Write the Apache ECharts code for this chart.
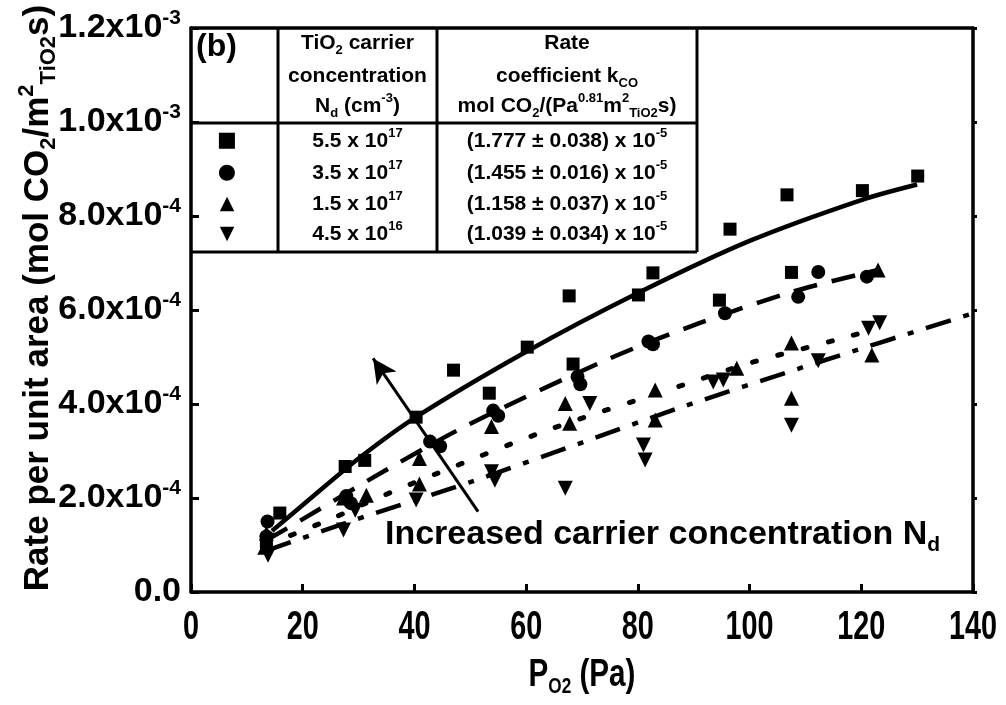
<!DOCTYPE html>
<html><head><meta charset="utf-8">
<script src="https://cdn.jsdelivr.net/npm/echarts@6/dist/echarts.min.js"></script>
<style>html,body{margin:0;padding:0;background:#fff}#c{width:1006px;height:705px}</style>
</head><body><div id="c"></div>
<script>
// ---------- data ----------
const xTickLabels = ['0','20','40','60','80','100','120','140'];
const xTickValues = [0,20,40,60,80,100,120,140];
const yTickMant = ['0.0','2.0','4.0','6.0','8.0','1.0','1.2'];
const yTickExp  = ['','-4','-4','-4','-4','-3','-3'];

// squares: Nd = 5.5e17
const sqX = [13.5, 15.9, 27.6, 31.1, 40.3, 47.0, 53.4, 60.2, 67.7, 68.4, 80.1, 82.7, 94.6, 96.5, 106.7, 107.5, 120.2, 130.1];
const sqY = [1.05e-4, 1.68e-4, 2.67e-4, 2.80e-4, 3.72e-4, 4.72e-4, 4.23e-4, 5.21e-4, 6.30e-4, 4.85e-4, 6.32e-4, 6.79e-4, 6.21e-4, 7.72e-4, 8.45e-4, 6.80e-4, 8.54e-4, 8.85e-4];
// circles: Nd = 3.5e17
const ciX = [13.7, 13.5, 27.8, 28.6, 42.8, 44.6, 54.1, 55.0, 69.2, 69.7, 81.9, 82.7, 95.6, 108.7, 112.3, 121.0];
const ciY = [1.50e-4, 1.18e-4, 2.04e-4, 1.89e-4, 3.20e-4, 3.10e-4, 3.86e-4, 3.75e-4, 4.58e-4, 4.42e-4, 5.33e-4, 5.27e-4, 5.93e-4, 6.28e-4, 6.81e-4, 6.71e-4];
// up triangles: Nd = 1.5e17
const tuX = [13.5, 13.2, 27.3, 31.4, 40.9, 40.9, 53.8, 67.0, 67.8, 83.1, 83.1, 97.7, 107.5, 107.5, 121.9, 123.0];
const tuY = [1.25e-4, 0.95e-4, 2.00e-4, 2.06e-4, 2.84e-4, 2.30e-4, 3.52e-4, 4.01e-4, 3.59e-4, 4.30e-4, 3.66e-4, 4.76e-4, 5.30e-4, 4.12e-4, 5.04e-4, 6.85e-4];
// down triangles: Nd = 4.5e16
const tdX = [13.8, 13.8, 27.3, 29.4, 40.3, 53.8, 54.4, 67.0, 71.4, 81.0, 81.3, 93.5, 95.3, 107.5, 112.3, 121.3, 123.3];
const tdY = [1.10e-4, 0.78e-4, 1.32e-4, 1.74e-4, 1.96e-4, 2.56e-4, 2.38e-4, 2.21e-4, 4.01e-4, 3.13e-4, 2.81e-4, 4.47e-4, 4.51e-4, 3.55e-4, 4.92e-4, 5.61e-4, 5.73e-4];

// fitted curves
const fitSqX = [14.5, 20, 30, 40, 60, 80, 100, 120, 130];
const fitSqY = [1.30e-4, 1.85e-4, 2.84e-4, 3.70e-4, 5.11e-4, 6.36e-4, 7.47e-4, 8.34e-4, 8.67e-4];
const fitCiX = [13.5, 20, 35, 50, 75, 91, 108, 123];
const fitCiY = [1.10e-4, 1.55e-4, 2.60e-4, 3.58e-4, 4.97e-4, 5.72e-4, 6.40e-4, 6.85e-4];
const fitTuX = [13.5, 25, 33.2, 44, 64, 89, 100, 116, 122];
const fitTuY = [1.00e-4, 1.55e-4, 1.99e-4, 2.52e-4, 3.45e-4, 4.44e-4, 4.87e-4, 5.38e-4, 5.58e-4];
const fitTdX = [13.5, 28.5, 50, 70, 88, 110, 140];
const fitTdY = [0.88e-4, 1.50e-4, 2.34e-4, 3.18e-4, 3.94e-4, 4.80e-4, 5.93e-4];

// arrow (data coords)
const arrowFrom = [51.4, 1.71e-4];
const arrowTo = [32.6, 4.97e-4];

// legend table text
const hdrCol2 = ['TiO{s|2} carrier', 'concentration', 'N{s|d} (cm{p|-3})'];
const hdrCol3 = ['Rate', 'coefficient k{s|CO}', 'mol CO{s|2}/(Pa{p|0.81}m{p|2}{s|TiO2}s)'];
const legendSymbols = ['■', '●', '▲', '▼'];
const legendConc = ['5.5 x 10{p|17}', '3.5 x 10{p|17}', '1.5 x 10{p|17}', '4.5 x 10{p|16}'];
const legendCoef = ['(1.777 ± 0.038) x 10{p|-5}', '(1.455 ± 0.016) x 10{p|-5}', '(1.158 ± 0.037) x 10{p|-5}', '(1.039 ± 0.034) x 10{p|-5}'];

// ---------- chart ----------
const FONT = "'Liberation Sans', Arial, Helvetica, sans-serif";
const chart = echarts.init(document.getElementById('c'));
const zip = (a, b) => a.map((v, i) => [v, b[i]]);

function scatter(x, y, symbol, size, rot) {
  return { type: 'scatter', data: zip(x, y), symbol, symbolSize: size, symbolRotate: rot || 0,
    itemStyle: { color: '#000', opacity: 1 }, z: 3, silent: true };
}
function fit(x, y, type, width, cap) {
  return { type: 'line', data: zip(x, y), smooth: 0.3, showSymbol: false, symbol: 'none', silent: true,
    lineStyle: { color: '#000', width, type, cap: cap || 'butt', opacity: 1 }, z: 2 };
}

const option = {
  animation: false,
  backgroundColor: '#fff',
  grid: { left: 191, right: 33, top: 28, bottom: 113, containLabel: false },
  xAxis: [{
    type: 'value', min: 0, max: 140, interval: 20, position: 'bottom',
    axisLine: { show: true, onZero: false, lineStyle: { color: '#000', width: 3.5 } },
    axisTick: { show: true, inside: true, length: 8, lineStyle: { color: '#000', width: 3 } },
    axisLabel: { show: false }, splitLine: { show: false }
  }, {
    type: 'value', min: 0, max: 140, interval: 20, position: 'top',
    axisLine: { show: true, onZero: false, lineStyle: { color: '#000', width: 3.5 } },
    axisTick: { show: false }, axisLabel: { show: false }, splitLine: { show: false }
  }],
  yAxis: [{
    type: 'value', min: 0, max: 1.2e-3, interval: 2e-4, position: 'left',
    axisLine: { show: true, onZero: false, lineStyle: { color: '#000', width: 3.5 } },
    axisTick: { show: true, inside: true, length: 8, lineStyle: { color: '#000', width: 3 } },
    splitLine: { show: false },
    axisLabel: {
      margin: 10, color: '#000', fontFamily: FONT, fontWeight: 'bold', fontSize: 34,
      formatter: (v, i) => yTickExp[i] ? '{m|' + yTickMant[i] + 'x10}{e|' + yTickExp[i] + '}' : '{m|' + yTickMant[i] + '}',
      rich: {
        m: { fontFamily: FONT, fontWeight: 'bold', fontSize: 34, lineHeight: 40, color: '#000' },
        e: { fontFamily: FONT, fontWeight: 'bold', fontSize: 21, lineHeight: 22, verticalAlign: 'top', color: '#000' }
      }
    }
  }, {
    type: 'value', min: 0, max: 1.2e-3, interval: 2e-4, position: 'right',
    axisLine: { show: true, onZero: false, lineStyle: { color: '#000', width: 3.5 } },
    axisTick: { show: true, inside: false, length: 4, lineStyle: { color: '#000', width: 3 } },
    axisLabel: { show: false }, splitLine: { show: false }
  }],
  series: [
    fit(fitSqX, fitSqY, 'solid', 4.5),
    fit(fitCiX, fitCiY, [24, 15], 4.5),
    fit(fitTuX, fitTuY, [4, 22], 5, 'round'),
    fit(fitTdX, fitTdY, [26, 13, 6, 13], 4.5),
    scatter(sqX, sqY, 'rect', 13),
    scatter(ciX, ciY, 'circle', 14),
    scatter(tuX, tuY, 'triangle', 15),
    scatter(tdX, tdY, 'triangle', 15, 180),
    { type: 'line', data: [], silent: true,
      markLine: { silent: true, symbol: ['none', 'arrow'], symbolSize: [18, 24],
        label: { show: false }, lineStyle: { color: '#000', width: 3, type: 'solid', opacity: 1 },
        itemStyle: { color: '#000' },
        data: [[{ coord: arrowFrom }, { coord: arrowTo }]] } }
  ]
};
chart.setOption(option);

// ---------- annotations ----------
function mkRich(sz) {
  return {
    s: { fontFamily: FONT, fontWeight: 'bold', fontSize: sz, lineHeight: sz + 1, verticalAlign: 'bottom', fill: '#000', color: '#000' },
    p: { fontFamily: FONT, fontWeight: 'bold', fontSize: sz, lineHeight: sz + 1, verticalAlign: 'top', fill: '#000', color: '#000' }
  };
}
function txt(x, y, text, o) {
  o = o || {};
  return {
    type: 'text', x, y, rotation: o.rotation || 0, scaleX: o.scaleX || 1, scaleY: o.scaleY || 1, z: 10, silent: true,
    style: {
      text, x: 0, y: 0, fill: '#000', fontFamily: o.family || FONT, fontWeight: 'bold', fontSize: o.size || 21,
      lineHeight: o.lh || 28,
      align: o.align || 'center', textAlign: o.align || 'center',
      verticalAlign: 'middle', textVerticalAlign: 'middle',
      rich: o.rich || mkRich(13)
    }
  };
}
function hline(x1, x2, y) { return { type: 'line', z: 10, silent: true, shape: { x1, y1: y, x2, y2: y }, style: { stroke: '#000', lineWidth: 3 } }; }
function vline(x, y1, y2) { return { type: 'line', z: 10, silent: true, shape: { x1: x, y1, x2: x, y2 }, style: { stroke: '#000', lineWidth: 3 } }; }

const g = [];
// table frame
const tL = 191, tR = 697, tT = 28, tH = 123, tB = 252, c1 = 278, c2 = 437;
g.push(vline(tR, tT, tB), vline(c1, tT, tB), vline(c2, tT, tB), hline(tL, tR, tH), hline(tL, tR, tB));
// header
g.push(txt(196, 47, '(b)', { size: 32, align: 'left', lh: 36 }));
const hdrY = [43, 76, 106];
hdrCol2.forEach((t, i) => g.push(txt((c1 + c2) / 2, hdrY[i], t)));
hdrCol3.forEach((t, i) => g.push(txt((c2 + tR) / 2, hdrY[i], t)));
const rowY = [141, 173, 204, 234];
const symSize = [21, 21, 19, 19];
legendSymbols.forEach((t, i) => g.push(txt(227, rowY[i], t, { size: symSize[i], family: "'DejaVu Sans', sans-serif" })));
legendConc.forEach((t, i) => g.push(txt((c1 + c2) / 2, rowY[i], t)));
legendCoef.forEach((t, i) => g.push(txt((c2 + tR) / 2, rowY[i], t)));

// x tick labels (narrow bold)
xTickValues.forEach((v, i) => {
  const px = chart.convertToPixel({ xAxisIndex: 0 }, v);
  g.push(txt(px, 628, xTickLabels[i], { size: 40, scaleX: 0.72, lh: 44 }));
});
// x axis title
const midX = chart.convertToPixel({ xAxisIndex: 0 }, 70);
g.push(txt(midX, 676, 'P{s|O2} (Pa)', { size: 38, scaleX: 0.78, lh: 44, rich: mkRich(22) }));
// y axis title (rotated)
g.push(txt(38, 298, 'Rate per unit area (mol CO{s|2}/m{p|2}{s|TiO2}s)', { size: 35, rotation: Math.PI / 2, lh: 44, rich: mkRich(22) }));
// annotation text
g.push(txt(385, 535, 'Increased carrier concentration N{s|d}', { size: 34, align: 'left', lh: 42, rich: mkRich(21) }));

chart.setOption({ graphic: { elements: g } });
</script></body></html>
